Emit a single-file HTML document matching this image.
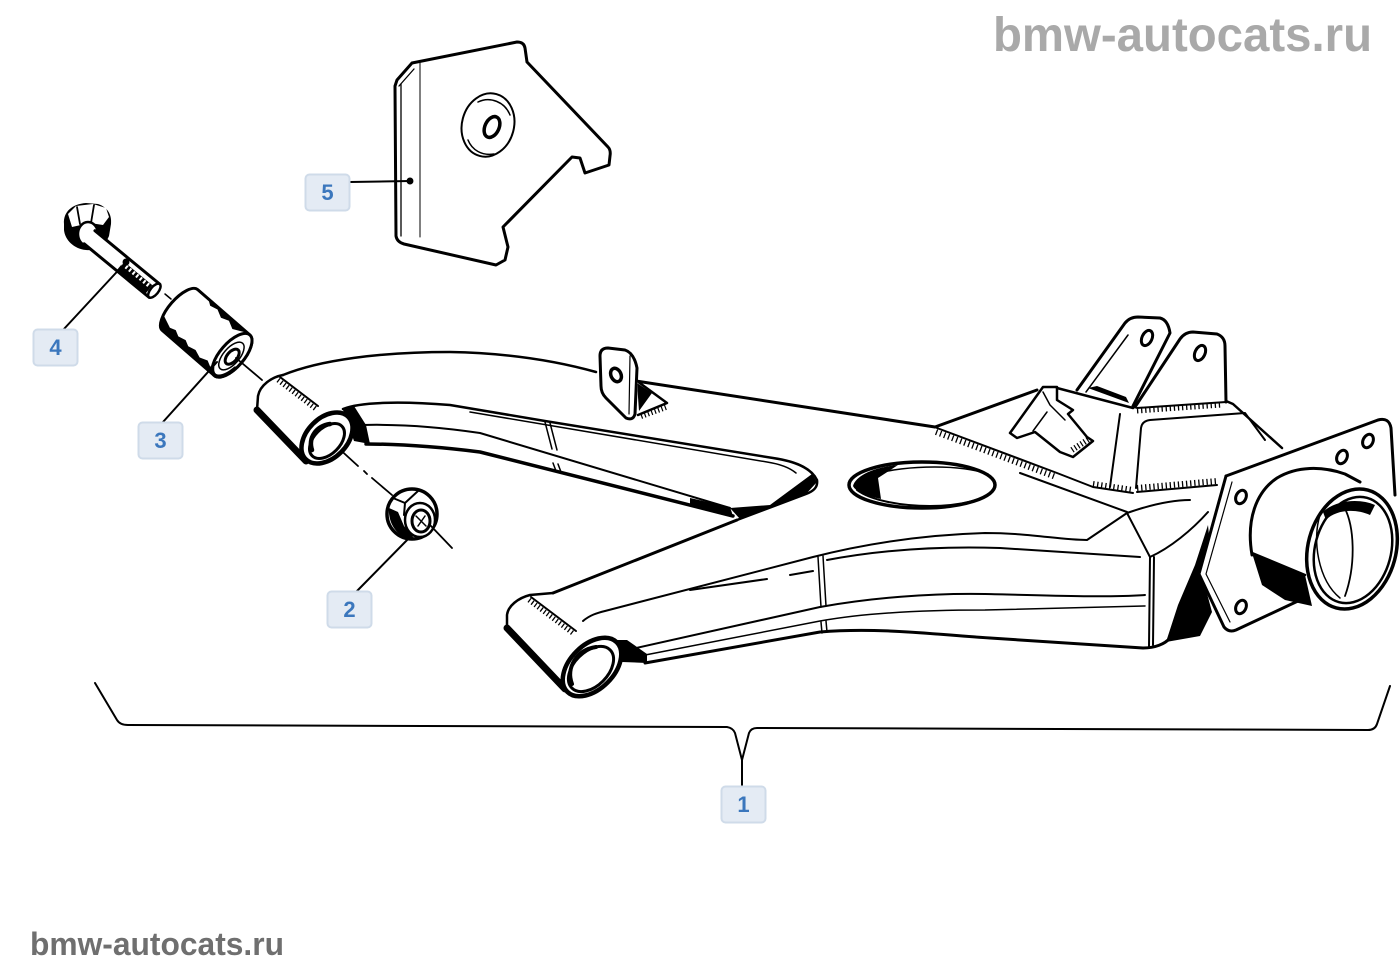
<!DOCTYPE html>
<html><head><meta charset="utf-8"><style>
html,body{margin:0;padding:0;background:#fff;}
svg{display:block;}
</style></head><body>
<svg width="1400" height="980" viewBox="0 0 1400 980" xmlns="http://www.w3.org/2000/svg">
<rect width="1400" height="980" fill="#fff"/>

<!-- watermarks -->
<text x="993" y="51" font-family="Liberation Sans, Arial, sans-serif" font-weight="bold" font-size="48" fill="#a9a9a9" textLength="379" lengthAdjust="spacingAndGlyphs">bmw-autocats.ru</text>
<text x="30" y="955" font-family="Liberation Sans, Arial, sans-serif" font-weight="bold" font-size="32" fill="#6f6f6f" textLength="254" lengthAdjust="spacingAndGlyphs">bmw-autocats.ru</text>

<g fill="none" stroke="#000" stroke-linecap="round" stroke-linejoin="round" stroke-width="2.5">

<!-- ===== Part 5 plate ===== -->
<path d="M397,80 L412,63 L517,42 Q524,42 525,48 L527,62 L608,147 Q611,150 610,156 L609,165 L585,173 L580,158 L572,157 L503,227 L508,247 L505,260 L496,265 L404,244 Q397,242 396,236 L395,86 Z" fill="#fff" stroke-width="3"/>
<path d="M401,84 L401,236" stroke-width="1.3"/>
<path d="M399,86 L414,69" stroke-width="1.3"/>
<path d="M420,62 L420,237" stroke-width="1"/>
<ellipse cx="488" cy="125" rx="26" ry="32" transform="rotate(15 488 125)" stroke-width="2"/>
<path d="M478,102 C490,96 505,102 510,115" stroke-width="1.5"/>
<path d="M468,140 C472,150 482,156 494,154" stroke-width="1.5"/>
<ellipse cx="492" cy="127" rx="7" ry="11" transform="rotate(25 492 127)" stroke-width="3.5"/>
<!-- leader 5 -->
<path d="M350,182 L410,181" stroke-width="2"/>
<circle cx="410" cy="181" r="2.2" fill="#000"/>

<!-- ===== Part 4 bolt ===== -->
<path d="M64,224 C63,212 72,204 86,203 L98,204 C107,207 112,214 111,224 L109,236 C105,246 96,251 86,250 C74,249 65,240 64,230 Z" fill="#000" stroke="none"/>
<path d="M68,214 L76,206 L93,204 L106,208 L109,217 L103,225 L90,223 L72,227 Z" fill="#fff" stroke="none"/>
<path d="M77,207 L80,224 M94,205 L91,223" stroke-width="1.8"/>
<ellipse cx="88" cy="234" rx="10" ry="12" fill="#fff" stroke-width="2.5"/>
<g transform="translate(88,236) rotate(39.5)">
  <rect x="1" y="-8.5" width="85" height="17" fill="#fff" stroke="none"/>
  <path d="M2,-8.5 L86,-8.5 M2,8.5 L86,8.5" stroke-width="3"/>
  <rect x="44" y="-3" width="37" height="11.5" fill="#000" stroke="none"/>
  <path d="M44,-0.5 L81,-0.5" stroke="#fff" stroke-width="4" stroke-dasharray="2 2.6" stroke-linecap="butt"/>
  <ellipse cx="86" cy="0" rx="4" ry="8.5" fill="#fff" stroke-width="2.5"/>
</g>
<path d="M165,294 L171,299" stroke-width="1.5"/>
<!-- leader 4 -->
<path d="M63,330 L126,262" stroke-width="2"/>
<circle cx="126" cy="262" r="2.2" fill="#000"/>

<!-- ===== Part 3 bushing ===== -->
<g transform="translate(180,310) rotate(41)">
  <path d="M0,-27 L69,-27 A12,27 0 0 1 69,27 L0,27 A11,27 0 0 1 0,-27 Z" fill="#fff" stroke-width="3"/>
  <path d="M-8,15 L4,20 L10,18 L16,21 L24,19 L30,22 L38,20 L46,23 L54,20 L60,23 L66,21 L69,27 L0,27 A11,27 0 0 1 -8,15 Z" fill="#000" stroke="none"/>
  <path d="M14,-27 L20,-23 L28,-25 L36,-21 L44,-24 L52,-20 L60,-24 L66,-27 Z" fill="#000" stroke="none"/>
  <ellipse cx="69" cy="0" rx="12" ry="27" fill="#fff" stroke-width="3"/>
  <path d="M62,22 A12,27 0 0 0 80,8" stroke-width="4"/>
  <ellipse cx="69" cy="1" rx="8" ry="17" stroke-width="1.5"/>
  <ellipse cx="70" cy="1" rx="5" ry="9" fill="#fff" stroke-width="3"/>
</g>
<!-- leader 3 -->
<path d="M163,422 L217,362" stroke-width="2"/>

<!-- ===== Part 2 nut ===== -->
<ellipse cx="412" cy="514" rx="25" ry="25" fill="#fff" stroke-width="3.5"/>
<path d="M389,508 C388,520 394,533 406,538 L414,538 L404,526 L398,512 Z" fill="#000" stroke="none"/>
<path d="M393,498 L405,503 L418,491 M405,503 L404,515" stroke-width="2"/>
<ellipse cx="420" cy="520" rx="15" ry="17" fill="#fff" stroke-width="2.5"/>
<ellipse cx="421" cy="521" rx="9" ry="11" stroke-width="3"/>
<path d="M416,516 L426,526 M418,526 L425,516" stroke-width="1.5"/>
<!-- leader 2 -->
<path d="M357,591 L412,535" stroke-width="2"/>

<!-- center dash-dot line -->
<path d="M236,358 L262,380 M323,434 L358,466 M364,471 L367,474 M372,478 L392,495 M430,525 L452,548" stroke-width="1.8"/>

<!-- ===== Arm: upper member ===== -->
<path d="M283,375 C320,360 380,352 450,352 C510,353 560,362 596,372"/>
<path d="M636,381 L935,427" stroke-width="3"/>
<path d="M343,409 C360,402 400,401 450,405 L545,421 L773,458 C800,462 812,470 817,480 C818,487 814,491 806,494 L737,520"/>
<path d="M470,412 L767,462 C780,464 790,468 796,473" stroke-width="1.5"/>
<path d="M362,425 C400,424 440,427 480,433 L730,508" stroke-width="2"/>
<path d="M366,444 C400,444 440,447 480,452 L733,516" stroke-width="3.5"/>
<path d="M730,508 L770,505 L812,474 L817,482 L806,494 L740,519 Z" fill="#000" stroke="none"/>
<path d="M690,498 L730,507 L733,516 L690,505 Z" fill="#000" stroke="none"/>
<path d="M545,422 L552,449 M550,423 L557,450 M553,463 L556,471 M558,464 L561,472" stroke-width="1.5"/>
<path d="M343,410 L354,406 L366,425 L370,444 L354,441 Z" fill="#000" stroke="none"/>

<!-- upper-left eye -->
<path d="M283,375 C272,377 260,385 258,396 L257,410"/>
<path d="M280,377 L318,406" stroke-width="2"/>
<path d="M278,380 L316,409" stroke-width="5" stroke-dasharray="1.3 2.5" stroke-linecap="butt"/>
<path d="M257,410 L306,461" stroke-width="7"/>
<path d="M262,408 L308,456" stroke="#fff" stroke-width="1.5"/>
<ellipse cx="327" cy="438" rx="20" ry="30" transform="rotate(45 327 438)" fill="#fff" stroke-width="4.5"/>
<ellipse cx="327" cy="441" rx="13" ry="21" transform="rotate(45 327 441)" stroke-width="3"/>
<path d="M312,450 C308,438 316,426 330,424" stroke-width="4.5"/>

<!-- ===== Arm: lower member ===== -->
<path d="M553,593 L737,520" stroke-width="3"/>
<path d="M583,621 C590,615 597,613 605,611 L813,557 C860,545 920,535 985,533 C1030,533 1060,540 1087,540 L1127,513" stroke-width="2"/>
<path d="M690,590 L767,579 M790,575 L813,571" stroke-width="2"/>
<path d="M827,560 C880,550 940,546 1000,548 L1140,557" stroke-width="2"/>
<path d="M627,650 L820,607 C870,598 930,593 985,594 C1040,595 1100,598 1145,595" stroke-width="2"/>
<path d="M640,656 L820,621 C870,612 930,610 985,610 L1145,606" stroke-width="1.5"/>
<path d="M645,663 L820,632 C880,627 940,635 990,638 L1143,648 C1155,648 1165,644 1170,638 L1193,603" stroke-width="3"/>
<path d="M818,557 L821,607 M823,556 L826,606 M821,622 L822,633 M826,621 L827,632" stroke-width="1.5"/>
<path d="M612,640 L627,640 L647,654 L647,663 L622,662 Z" fill="#000" stroke="none"/>

<!-- lower-left eye -->
<path d="M553,593 L530,595 C518,598 508,606 507,615 L507,628"/>
<path d="M531,597 L576,631" stroke-width="2"/>
<path d="M529,600 L574,634" stroke-width="5" stroke-dasharray="1.3 2.5" stroke-linecap="butt"/>
<path d="M507,628 L565,689" stroke-width="7"/>
<path d="M512,626 L567,684" stroke="#fff" stroke-width="1.5"/>
<ellipse cx="592" cy="667" rx="22" ry="35" transform="rotate(45 592 667)" fill="#fff" stroke-width="4.5"/>
<ellipse cx="591" cy="669" rx="17" ry="27" transform="rotate(45 591 669)" stroke-width="3"/>
<path d="M572,684 C566,668 576,650 596,647" stroke-width="4"/>

<!-- big hole -->
<ellipse cx="922" cy="485" rx="73" ry="23" stroke-width="3.5"/>
<path d="M870,476 C895,466 955,463 988,474" stroke-width="1.5"/>
<path d="M857,490 C870,500 900,506 930,506 C960,506 985,500 993,490" stroke-width="2"/>
<path d="M853,486 C856,475 875,467 898,465 L878,478 L881,499 C866,496 855,491 853,486 Z" fill="#000" stroke="none"/>

<!-- bracket on upper member -->
<path d="M600,356 Q600,348 608,348 L625,350 Q634,353 637,368 L635,414 Q633,421 626,418 L606,398 Q601,393 601,386 Z" fill="#fff" stroke-width="3"/>
<ellipse cx="616" cy="375" rx="5" ry="7" transform="rotate(-25 616 375)" stroke-width="3.5"/>
<path d="M630,356 L629,414" stroke-width="1.2"/>
<path d="M637,381 L667,403 L638,415" fill="#fff" stroke-width="2.5"/>
<path d="M637,383 L652,393 L639,411 Z" fill="#000" stroke="none"/>
<path d="M641,416 L666,407" stroke-width="6" stroke-dasharray="1.2 2.4" stroke-linecap="butt"/>

<!-- ===== Box ===== -->
<path d="M935,427 L1037,390" stroke-width="3"/>
<path d="M937,428 L1057,473 L1093,487 L1133,493" stroke-width="2"/>
<path d="M936,432 L1056,477" stroke-width="6" stroke-dasharray="1.3 3" stroke-linecap="butt"/>
<path d="M1093,484 L1133,490" stroke-width="6" stroke-dasharray="1.3 2.8" stroke-linecap="butt"/>
<path d="M1020,473 L1127,512" stroke-width="2"/>
<path d="M1137,492 L1217,485" stroke-width="2"/>
<path d="M1137,488 L1217,481" stroke-width="6" stroke-dasharray="1.3 2.8" stroke-linecap="butt"/>

<!-- clip -->
<path d="M1010,433 L1043,387 L1057,387 L1057,400 L1073,410 L1068,414 L1087,437 L1093,441 L1073,457 L1060,452 L1035,432 L1017,438 Z" fill="#fff" stroke-width="2.5"/>
<path d="M1043,392 L1050,405 L1065,420 M1033,431 L1047,412" stroke-width="1.5"/>
<path d="M1072,450 L1089,439" stroke-width="6" stroke-dasharray="1.2 2.4" stroke-linecap="butt"/>

<!-- box top + ears -->
<path d="M1057,388 L1133,408" stroke-width="2.5"/>
<path d="M1077,390 L1125,323 Q1130,317 1138,317 L1160,318 Q1168,320 1170,333 L1133,406" fill="#fff" stroke-width="3"/>
<path d="M1086,392 L1128,335" stroke-width="1.5"/>
<ellipse cx="1147" cy="338" rx="5" ry="8" transform="rotate(25 1147 338)" stroke-width="3"/>
<path d="M1135,407 L1180,339 Q1185,332 1193,332 L1217,334 Q1225,337 1225,346 L1226,402" fill="#fff" stroke-width="3"/>
<ellipse cx="1200" cy="353" rx="5" ry="8" transform="rotate(25 1200 353)" stroke-width="3"/>
<path d="M1088,388 L1097,386 L1126,397 L1129,403 Z" fill="#000" stroke="none"/>
<path d="M1137,408 L1226,402" stroke-width="2"/>
<path d="M1137,411 L1222,405" stroke-width="5" stroke-dasharray="1.3 2.8" stroke-linecap="butt"/>
<path d="M1226,401 L1233,404 L1282,448" stroke-width="2.5"/>
<path d="M1120,414 L1110,487 M1141,428 L1136,488 M1141,428 Q1142,421 1150,420 L1245,413 L1265,440" stroke-width="2"/>

<!-- corner facets -->
<path d="M1127,513 L1150,557 L1149,647 M1154,557 L1153,645 M1127,513 C1150,505 1172,500 1190,500 M1150,557 C1170,548 1192,530 1208,512" stroke-width="2"/>
<path d="M1166,642 L1178,605 L1195,565 L1208,525 L1210,545 L1202,575 L1212,612 L1200,636 Z" fill="#000" stroke="none"/>

<!-- flange plate -->
<path d="M1226,476 L1378,420 Q1389,417 1391,428 L1395,495 L1398,560 L1300,602 L1236,630 Q1229,633 1224,627 L1199,574 Z" fill="#fff" stroke="none"/>
<path d="M1226,476 L1378,420 Q1389,417 1391,428 L1395,495" stroke-width="3"/>
<path d="M1226,476 L1199,574 L1224,627 Q1229,633 1236,630 L1298,601" stroke-width="3"/>
<path d="M1232,482 L1206,574 L1230,622" stroke-width="1.2"/>
<ellipse cx="1241" cy="497" rx="5" ry="7" transform="rotate(25 1241 497)" stroke-width="3"/>
<ellipse cx="1342" cy="457" rx="5" ry="7" transform="rotate(25 1342 457)" stroke-width="3"/>
<ellipse cx="1368" cy="441" rx="5" ry="7" transform="rotate(25 1368 441)" stroke-width="3"/>
<ellipse cx="1241" cy="607" rx="5" ry="7" transform="rotate(25 1241 607)" stroke-width="3"/>

<!-- tube -->
<path d="M1252,555 C1246,520 1256,492 1277,478 C1297,466 1322,466 1345,474 L1360,482" fill="#fff" stroke-width="3"/>
<path d="M1252,553 L1305,575 L1312,606 L1285,600 L1262,585 Z" fill="#000" stroke="none"/>
<path d="M1252,553 L1305,575" stroke-width="2.5"/>
<ellipse cx="1352" cy="549" rx="44" ry="61" transform="rotate(15 1352 549)" fill="#fff" stroke-width="3.5"/>
<ellipse cx="1353" cy="550" rx="38" ry="54" transform="rotate(15 1353 550)" stroke-width="2.5"/>
<path d="M1323,512 C1335,500 1360,498 1375,505 L1370,515 C1355,508 1335,510 1326,520 Z" fill="#000" stroke="none"/>
<path d="M1343,505 C1355,525 1356,565 1345,596" stroke-width="1.8"/>
<path d="M1320,515 C1312,540 1318,580 1340,598" stroke-width="1.5"/>

<!-- brace for 1 -->
<path d="M95,683 L117,720 Q120,725 128,725 L727,727 Q733,728 735,733 L742,760 L749,733 Q751,728 757,728 L1368,730 Q1375,730 1377,724 L1390,686" stroke-width="2"/>
<path d="M742,760 L742,786" stroke-width="2"/>
</g>

<!-- labels -->
<g font-family="Liberation Sans, Arial, sans-serif" font-weight="bold" font-size="22" fill="#3b77bd" text-anchor="middle">
  <rect x="305.5" y="174.5" width="44" height="36" rx="4" fill="#e4ebf4" stroke="#cfdbe9" stroke-width="2"/>
  <text x="327.5" y="200">5</text>
  <rect x="33.5" y="329.5" width="44" height="36" rx="4" fill="#e4ebf4" stroke="#cfdbe9" stroke-width="2"/>
  <text x="55.5" y="355">4</text>
  <rect x="138.5" y="422.5" width="44" height="36" rx="4" fill="#e4ebf4" stroke="#cfdbe9" stroke-width="2"/>
  <text x="160.5" y="448">3</text>
  <rect x="327.5" y="591.5" width="44" height="36" rx="4" fill="#e4ebf4" stroke="#cfdbe9" stroke-width="2"/>
  <text x="349.5" y="617">2</text>
  <rect x="721.5" y="786.5" width="44" height="36" rx="4" fill="#e4ebf4" stroke="#cfdbe9" stroke-width="2"/>
  <text x="743.5" y="812">1</text>
</g>
</svg>
</body></html>
